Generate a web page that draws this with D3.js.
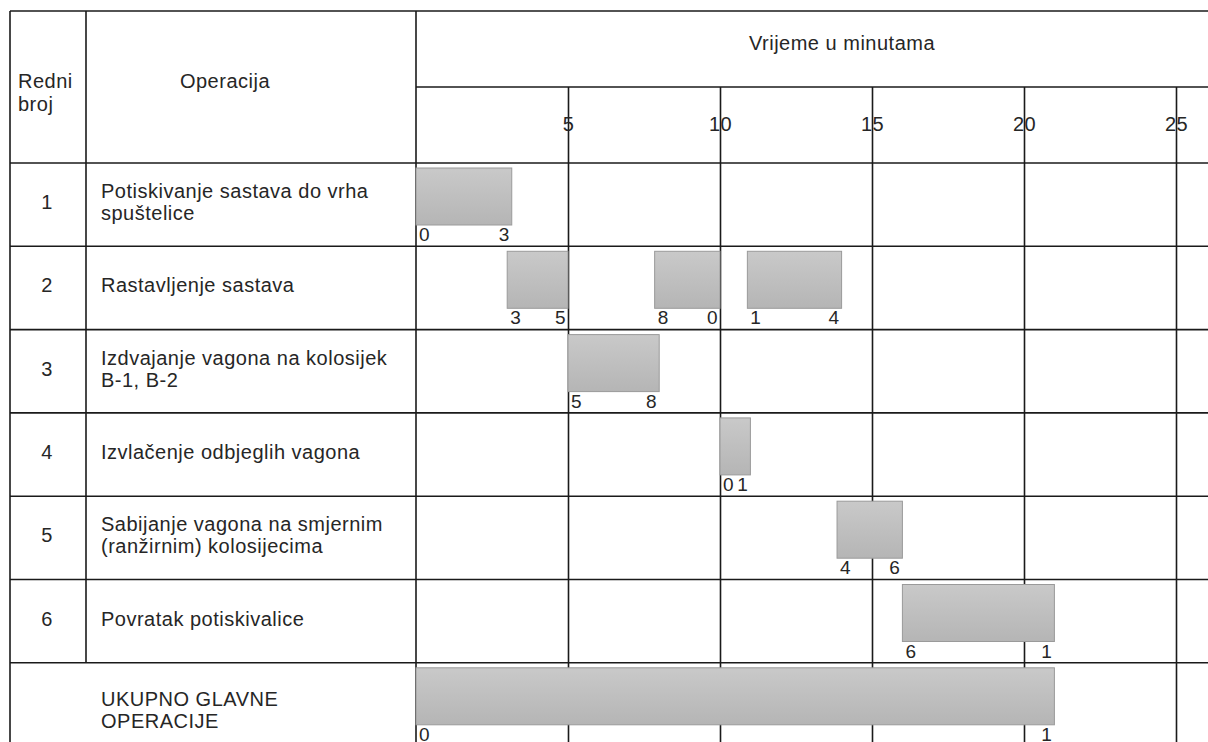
<!DOCTYPE html>
<head>
<meta charset="utf-8">
<style>
body{
    margin:0;
    background:#fff;
}
text{
    font-family:"Liberation Sans", Arial, sans-serif;
    font-size:20px;
    letter-spacing:0.5px;
    fill:#262626;
}
.grid line{ stroke:#1a1a1a; stroke-width:1.6; }
</style>
<title>Vrijeme u minutama</title>
</head>
<body>
<svg width="1208" height="742"></svg>
<script src="https://d3js.org/d3.v7.min.js"></script>
<script>
// row numbers and operation names (lines as shown in the table)
var rowNumbers = ['1','2','3','4','5','6'];
var operations = [
    ['Potiskivanje sastava do vrha','spuštelice'],
    ['Rastavljenje sastava'],
    ['Izdvajanje vagona na kolosijek','B-1, B-2'],
    ['Izvlačenje odbjeglih vagona'],
    ['Sabijanje vagona na smjernim','(ranžirnim) kolosijecima'],
    ['Povratak potiskivalice']
];
var totalLabel = ['UKUPNO GLAVNE','OPERACIJE'];

// tasks: row index, start minute, end minute (row 6 = total)
var taskRow   = [0,    1, 1,    1,    2, 3,  4,     5,  6];
var taskStart = [0,    3, 7.85, 10.9, 5, 10, 13.85, 16, 0];
var taskEnd   = [3.15, 5, 10,   14,   8, 11, 16,    21, 21];

var timeTicks = [5,10,15,20,25];

var svg = d3.select('svg');
var W = 1208, H = 742;
var left = 10, tableTop = 11, col1 = 86, col2 = 416;
var subHead = 87, headBottom = 163, rowH = 83.3;

var x = d3.scaleLinear().domain([0,25]).range([col2, 1176]);
var rowY = function(i){ return headBottom + i*rowH; };

// gradient for bars
var grad = svg.append('defs').append('linearGradient')
    .attr('id','barGrad').attr('x1',0).attr('x2',0).attr('y1',0).attr('y2',1);
grad.append('stop').attr('offset','0%').attr('stop-color','#c9c9c9');
grad.append('stop').attr('offset','100%').attr('stop-color','#b5b5b5');

// vertical time gridlines with labels
var axis = d3.axisBottom(x).tickValues(timeTicks).tickSize(H - subHead).tickFormat(d3.format('d'));
var gAxis = svg.append('g').attr('class','grid').attr('transform','translate(0,'+subHead+')').call(axis);
gAxis.select('.domain').remove();
gAxis.selectAll('text')
    .attr('y', 44).attr('dy', null)
    .style('font-size','20px').style('font-family','"Liberation Sans", Arial, sans-serif')
    .attr('fill','#262626');

// table lines
var lines = svg.append('g').attr('class','grid');
function hline(y, x1, x2){ lines.append('line').attr('x1',x1).attr('x2',x2).attr('y1',y).attr('y2',y); }
function vline(xx, y1, y2){ lines.append('line').attr('x1',xx).attr('x2',xx).attr('y1',y1).attr('y2',y2); }
hline(tableTop, left, W);
hline(subHead, col2, W);
hline(headBottom, left, W);
rowNumbers.forEach(function(d,i){ hline(rowY(i+1), left, W); });
vline(left, tableTop, H);
vline(col1, tableTop, rowY(rowNumbers.length));
vline(col2, tableTop, H);

// header text
svg.append('text').attr('x',18).attr('y',88).text('Redni');
svg.append('text').attr('x',18).attr('y',111).text('broj');
svg.append('text').attr('x',225).attr('y',88).attr('text-anchor','middle').text('Operacija');
svg.append('text').attr('x',842).attr('y',50).attr('text-anchor','middle').text('Vrijeme u minutama');

// row numbers and operation names
var rows = svg.selectAll('.row').data(rowNumbers).enter().append('g').attr('class','row');
rows.append('text')
    .attr('x',47).attr('y',function(d,i){ return rowY(i)+46; })
    .attr('text-anchor','middle')
    .text(function(d){ return d; });
rows.each(function(d,i){
    var t = operations[i];
    var y0 = t.length > 1 ? rowY(i)+35 : rowY(i)+46;
    d3.select(this).selectAll('.op').data(t).enter().append('text')
        .attr('x',101).attr('y',function(s,j){ return y0 + j*22; })
        .text(function(s){ return s; });
});
svg.selectAll('.total').data(totalLabel).enter().append('text')
    .attr('x',101).attr('y',function(s,j){ return rowY(6)+43 + j*22; })
    .text(function(s){ return s; });

// bars
var tasks = taskRow.map(function(r,i){ return {row:r, start:taskStart[i], end:taskEnd[i]}; });
var bars = svg.selectAll('.bar').data(tasks).enter().append('g').attr('class','bar');
bars.append('rect')
    .attr('x',function(d){ return x(d.start); })
    .attr('y',function(d){ return rowY(d.row)+5; })
    .attr('width',function(d){ return x(d.end)-x(d.start); })
    .attr('height',57)
    .attr('fill','url(#barGrad)')
    .attr('stroke','#9a9a9a').attr('stroke-width',1);
bars.append('text')
    .attr('x',function(d){ return x(d.start)+3; })
    .attr('y',function(d){ return rowY(d.row)+78; })
    .style('font-size','19px')
    .text(function(d){ return Math.round(d.start) % 10; });
bars.append('text')
    .attr('x',function(d){ return x(d.end)-2; })
    .attr('y',function(d){ return rowY(d.row)+78; })
    .attr('text-anchor','end')
    .style('font-size','19px')
    .text(function(d){ return Math.round(d.end) % 10; });
</script>
</body>
